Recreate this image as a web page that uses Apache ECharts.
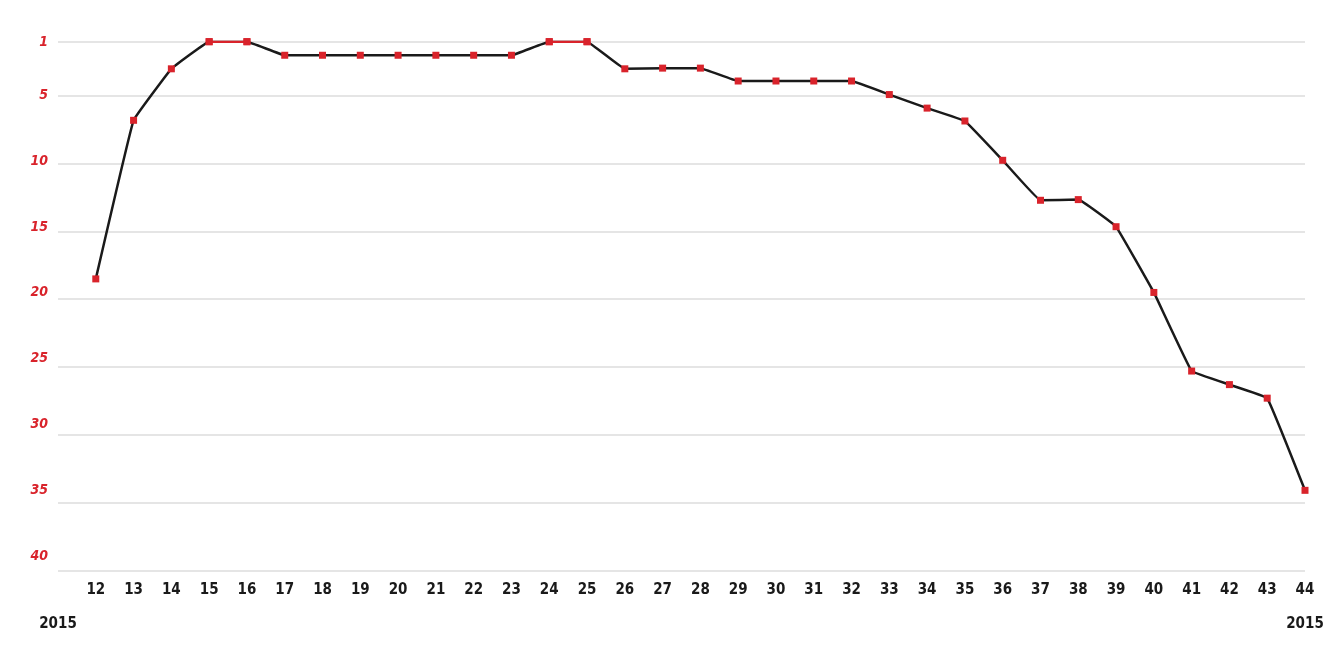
<!DOCTYPE html>
<html>
<head>
<meta charset="utf-8">
<script src="https://cdn.jsdelivr.net/npm/echarts@6/dist/echarts.min.js"></script>
<style>html,body{margin:0;padding:0;background:#fff}#c{width:1333px;height:666px}</style>
</head>
<body>
<div id="c"></div>
<script>
const weeks = [12,13,14,15,16,17,18,19,20,21,22,23,24,25,26,27,28,29,30,31,32,33,34,35,36,37,38,39,40,41,42,43,44];
const ranks = [18.5,6.8,3,1,1,2,2,2,2,2,2,2,1,1,3,2.95,2.95,3.9,3.9,3.9,3.9,4.9,5.9,6.85,9.75,12.7,12.65,14.65,19.5,25.3,26.3,27.3,34.1];
const rankTicks = [1,5,10,15,20,25,30,35,40];
const yearLabel = '2015';

const RED = '#d9232b';
const FONT = "'DejaVu Sans Condensed','DejaVu Sans',sans-serif";

const mainData = weeks.map((w,i)=>[w, ranks[i]]);
const topData = weeks.map((w,i)=>{
  const isTop = ranks[i] === 1 && ((i>0 && ranks[i-1]===1) || (i<ranks.length-1 && ranks[i+1]===1));
  return [w, isTop ? ranks[i] : null];
});

const chart = echarts.init(document.getElementById('c'));
chart.setOption({
  animation: false,
  grid: {left: 58, right: 28, top: 41.7, bottom: 95.7},
  xAxis: [{
    type: 'value', min: weeks[0]-1, max: weeks[weeks.length-1], interval: 1,
    axisLine: {show: false}, axisTick: {show: false}, splitLine: {show: false},
    axisLabel: {
      margin: 12, color: '#1a1a1a', fontFamily: FONT, fontWeight: 'bold', fontSize: 15,
      formatter: v => v < weeks[0] ? '' : String(v)
    }
  }, {
    type: 'value', position: 'bottom', offset: 34, min: weeks[0]-1, max: weeks[weeks.length-1],
    axisLine: {show: false}, axisTick: {show: false}, splitLine: {show: false},
    axisLabel: {
      customValues: [weeks[0]-1, weeks[weeks.length-1]],
      margin: 12, color: '#1a1a1a', fontFamily: FONT, fontWeight: 'bold', fontSize: 15,
      formatter: () => yearLabel
    }
  }],
  yAxis: [{
    type: 'value', inverse: true, min: 1, max: 40,
    axisLine: {show: false},
    axisTick: {show: false, customValues: rankTicks},
    axisLabel: {show: false, customValues: rankTicks},
    splitLine: {show: true, lineStyle: {color: '#dcdcdc', width: 1.5}}
  }, {
    type: 'value', inverse: true, min: 0.924, max: 41.09, position: 'left',
    axisLine: {show: false}, axisTick: {show: false, customValues: rankTicks}, splitLine: {show: false},
    axisLabel: {
      customValues: rankTicks, margin: 10,
      color: RED, fontFamily: FONT, fontWeight: 'bold', fontStyle: 'italic', fontSize: 14
    }
  }],
  series: [{
    type: 'line', data: mainData, smooth: 0.06,
    lineStyle: {color: '#1a1a1a', width: 2.5},
    symbol: 'rect', symbolSize: 7, showAllSymbol: true,
    itemStyle: {color: RED}, z: 2
  }, {
    type: 'line', data: topData, smooth: 0.06, connectNulls: false,
    lineStyle: {color: RED, width: 2.5},
    symbol: 'rect', symbolSize: 7, showSymbol: true,
    itemStyle: {color: RED}, z: 3
  }]
});
</script>
</body>
</html>
